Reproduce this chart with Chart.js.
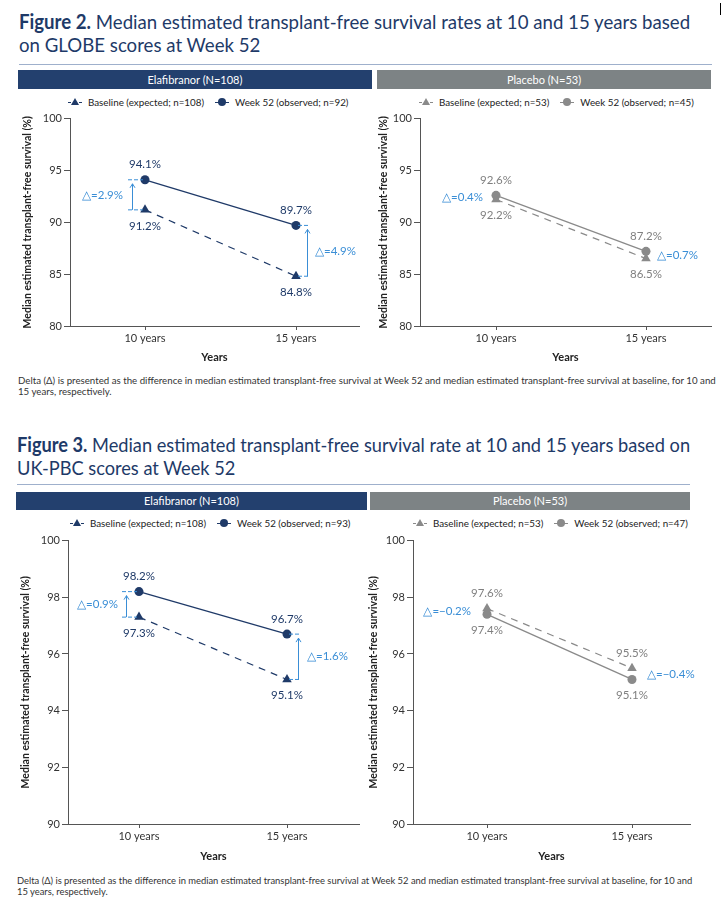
<!DOCTYPE html>
<html><head><meta charset="utf-8">
<script src="https://cdn.jsdelivr.net/npm/chart.js@4.4.1/dist/chart.umd.min.js"></script>
<style>
body{margin:0;width:728px;height:914px;position:relative;background:#fff;font-family:Lato,'Open Sans',sans-serif;overflow:hidden}
.abs{position:absolute}
.title{color:#1e3a68;font-size:20px;line-height:23px;white-space:nowrap}
.title span{display:inline-block;transform-origin:0 50%}
.title b{font-weight:700}
.rule{height:1px;background:#9fb0cc}
.hdr{color:#fff;font-size:11px;text-align:center}
.legend{font-size:9.8px;color:#222;white-space:nowrap;display:flex;align-items:center;height:12px}
.mk{display:inline-block;position:relative;width:14px;height:10px;margin-right:6px}
.mk .ln{position:absolute;left:0;right:0;top:5px;height:0;border-top:1px solid}
.mk .ln.d{border-top-style:dashed}
.mk .tri{position:absolute;left:3px;top:1px;width:8px;height:7px;clip-path:polygon(50% 0,100% 100%,0 100%)}
.mk .cir{position:absolute;left:3px;top:1px;width:8px;height:8px;border-radius:50%}
.item2{margin-left:11px}
.foot{color:#333;line-height:11px;white-space:nowrap}
canvas{position:absolute}
</style>
</head><body>

<div class="abs" style="left:720px;top:3px;width:1px;height:12px;background:#000"></div>

<div class="abs title" style="left:19px;top:10px"><span data-w="671"><b>Figure 2.</b> Median estimated transplant-free survival rates at 10 and 15 years based</span><br><span data-s="1">on GLOBE scores at Week 52</span></div>
<div class="abs rule" style="left:19px;top:64px;width:693px"></div>
<div class="abs hdr" style="left:18px;top:70px;width:354px;height:19px;line-height:19px;background:#23406e">Elafibranor (N=108)</div>
<div class="abs hdr" style="left:377px;top:70px;width:334px;height:19px;line-height:19px;background:#7d8385">Placebo (N=53)</div>
<div id="lg2a" class="abs legend" style="left:68px;top:96px"></div>
<div id="lg2b" class="abs legend" style="left:419px;top:96px"></div>
<div class="abs foot" style="left:18px;top:375px;font-size:9.7px">Delta (Δ) is presented as the difference in median estimated transplant-free survival at Week 52 and median estimated transplant-free survival at baseline, for 10 and<br>15 years, respectively.</div>

<div class="abs title" style="left:17px;top:433px"><span data-w="673"><b>Figure 3.</b> Median estimated transplant-free survival rate at 10 and 15 years based on</span><br><span data-s="1">UK-PBC scores at Week 52</span></div>
<div class="abs rule" style="left:17px;top:484px;width:673px"></div>
<div class="abs hdr" style="left:16px;top:492px;width:351px;height:18px;line-height:18px;background:#23406e">Elafibranor (N=108)</div>
<div class="abs hdr" style="left:370px;top:492px;width:320px;height:18px;line-height:18px;background:#7d8385">Placebo (N=53)</div>
<div id="lg3a" class="abs legend" style="left:70px;top:517px"></div>
<div id="lg3b" class="abs legend" style="left:413px;top:517px"></div>
<div class="abs foot" style="left:17px;top:875px;font-size:9.4px">Delta (Δ) is presented as the difference in median estimated transplant-free survival at Week 52 and median estimated transplant-free survival at baseline, for 10 and<br>15 years, respectively.</div>

<script>
// ---- data ----
const categories = ['10 years', '15 years'];
const categoryYears = [10, 15];
const yAxisTitle = 'Median estimated transplant-free survival (%)';
const xAxisTitle = 'Years';

const fig2YTicks = [80, 85, 90, 95, 100];
const fig3YTicks = [90, 92, 94, 96, 98, 100];

const fig2ElafBaseline = [91.2, 84.8];
const fig2ElafWeek52 = [94.1, 89.7];
const fig2ElafDelta = [2.9, 4.9];
const fig2ElafLegend = ['Baseline (expected; n=108)', 'Week 52 (observed; n=92)'];

const fig2PlacBaseline = [92.2, 86.5];
const fig2PlacWeek52 = [92.6, 87.2];
const fig2PlacDelta = [0.4, 0.7];
const fig2PlacLegend = ['Baseline (expected; n=53)', 'Week 52 (observed; n=45)'];

const fig3ElafBaseline = [97.3, 95.1];
const fig3ElafWeek52 = [98.2, 96.7];
const fig3ElafDelta = [0.9, 1.6];
const fig3ElafLegend = ['Baseline (expected; n=108)', 'Week 52 (observed; n=93)'];

const fig3PlacBaseline = [97.6, 95.5];
const fig3PlacWeek52 = [97.4, 95.1];
const fig3PlacDelta = [-0.2, -0.4];
const fig3PlacLegend = ['Baseline (expected; n=53)', 'Week 52 (observed; n=47)'];

// ---- styles ----
const NAVY = '#1f3a68';
const GREY = '#8a8a8a';
const GREY_TXT = '#7f7f7f';
const BLUE = '#3a8ed6';

// condense title lines to the reference width
document.querySelectorAll('.title').forEach(t => {
  const first = t.querySelector('span[data-w]');
  const k = +first.dataset.w / first.offsetWidth;
  t.querySelectorAll('span').forEach(s => { s.style.transform = 'scaleX(' + k + ')'; });
});

function buildLegend(id, labels, color) {
  const el = document.getElementById(id);
  el.innerHTML =
    '<span class="mk"><span class="ln d" style="border-color:' + color + '"></span><span class="tri" style="background:' + color + '"></span></span>' +
    '<span>' + labels[0] + '</span>' +
    '<span class="mk item2"><span class="ln" style="border-color:' + color + '"></span><span class="cir" style="background:' + color + '"></span></span>' +
    '<span>' + labels[1] + '</span>';
}

function fmtDelta(d) {
  return '\u25B3=' + (d < 0 ? '\u2212' : '') + Math.abs(d).toFixed(1) + '%';
}

const annotPlugin = {
  id: 'annot',
  afterDatasetsDraw(chart) {
    const o = chart.options.plugins.annot;
    const ctx = chart.ctx;
    const mb = chart.getDatasetMeta(0).data;
    const mw = chart.getDatasetMeta(1).data;
    const base = chart.data.datasets[0].data.map(p => p.y);
    const wk = chart.data.datasets[1].data.map(p => p.y);
    ctx.save();
    ctx.font = '11.5px Lato';
    ctx.textBaseline = 'middle';
    ctx.textAlign = 'center';
    ctx.fillStyle = o.labelColor;
    for (let i = 0; i < 2; i++) {
      const bHigh = base[i] > wk[i];
      const hi = bHigh ? mb[i] : mw[i], lo = bHigh ? mw[i] : mb[i];
      const hv = bHigh ? base[i] : wk[i], lv = bHigh ? wk[i] : base[i];
      ctx.fillText(hv.toFixed(1) + '%', hi.x, hi.y - 15);
      ctx.fillText(lv.toFixed(1) + '%', lo.x, lo.y + 16);
    }
    ctx.fillStyle = BLUE;
    ctx.strokeStyle = BLUE;
    ctx.lineWidth = 1;
    for (let i = 0; i < 2; i++) {
      const x = mw[i].x, yW = mw[i].y, yB = mb[i].y;
      const ym = (yW + yB) / 2;
      const left = i === 0;
      ctx.textAlign = left ? 'right' : 'left';
      ctx.fillText(fmtDelta(o.deltas[i]), left ? x - o.textOff[0] : x + o.textOff[1], ym);
      if (o.arrows) {
        const h1 = left ? x - 17 : x + 2, h2 = left ? x - 2 : x + 14;
        const ax = left ? x - 13 : x + 11;
        ctx.setLineDash([4, 2]);
        ctx.beginPath();
        ctx.moveTo(h1, yW); ctx.lineTo(h2, yW);
        ctx.moveTo(h1, yB); ctx.lineTo(h2, yB);
        ctx.stroke();
        ctx.setLineDash([]);
        ctx.beginPath();
        ctx.moveTo(ax + 0.5, yB); ctx.lineTo(ax + 0.5, yW + 4);
        ctx.moveTo(ax - 2, yW + 8); ctx.lineTo(ax + 0.5, yW + 4); ctx.lineTo(ax + 3, yW + 8);
        ctx.stroke();
      }
    }
    ctx.restore();
  }
};

function makeChart(c) {
  const cv = document.createElement('canvas');
  cv.width = c.w; cv.height = c.h;
  cv.style.left = c.left + 'px'; cv.style.top = c.top + 'px';
  cv.style.width = c.w + 'px'; cv.style.height = c.h + 'px';
  document.body.appendChild(cv);
  const pxPerYr = (c.x15 - c.x10) / 5;
  const xmin = categoryYears[0] - (c.x10 - c.l) / pxPerYr;
  const xmax = categoryYears[1] + (c.r - c.x15) / pxPerYr;
  const ticksFrom = arr => (scale) => { scale.ticks = arr.map(v => ({value: v})); };
  new Chart(cv, {
    type: 'line',
    data: {
      datasets: [
        {label: c.legend[0], data: categoryYears.map((x, i) => ({x, y: c.base[i]})),
          borderColor: c.color, backgroundColor: c.color, borderWidth: 1.2, borderDash: [7, 6],
          pointStyle: 'triangle', pointRadius: 5.5, pointBorderWidth: 0, pointBackgroundColor: c.color},
        {label: c.legend[1], data: categoryYears.map((x, i) => ({x, y: c.wk[i]})),
          borderColor: c.color, backgroundColor: c.color, borderWidth: 1.3,
          pointStyle: 'circle', pointRadius: 4.5, pointBorderWidth: 0, pointBackgroundColor: c.color}
      ]
    },
    options: {
      responsive: false, animation: false, devicePixelRatio: 1,
      layout: {padding: {top: c.t, right: c.w - c.r, left: 0, bottom: 0}},
      plugins: {legend: {display: false}, tooltip: {enabled: false},
        annot: {labelColor: c.labelColor, deltas: c.deltas, arrows: c.arrows, textOff: c.textOff}},
      scales: {
        x: {type: 'linear', min: xmin, max: xmax,
          afterBuildTicks: ticksFrom(categoryYears),
          afterFit: s => { s.height = c.h - c.b; },
          ticks: {callback: v => categories[categoryYears.indexOf(v)], font: {family: 'Lato', size: 11}, color: '#333', padding: 2, maxRotation: 0, autoSkip: false},
          grid: {drawOnChartArea: false, drawTicks: true, tickLength: 4, color: '#555'},
          border: {color: '#555', width: 1},
          title: {display: true, text: xAxisTitle, font: {family: 'Lato', size: 11, weight: 'bold'}, color: '#222', padding: {top: 0, bottom: c.xtPad}}
        },
        y: {min: c.ymin, max: c.ymax,
          afterBuildTicks: ticksFrom(c.yticks),
          afterFit: s => { s.width = c.l; },
          ticks: {font: {family: 'Lato', size: 11}, color: '#333', padding: 2},
          grid: {drawOnChartArea: false, drawTicks: true, tickLength: 6, color: '#555'},
          border: {color: '#555', width: 1},
          title: {display: true, text: yAxisTitle, font: {family: 'Lato', size: 10.5, weight: 'bold'}, color: '#222', padding: {top: c.ytPad, bottom: 0}}
        }
      }
    },
    plugins: [annotPlugin]
  });
}

buildLegend('lg2a', fig2ElafLegend, NAVY);
buildLegend('lg2b', fig2PlacLegend, GREY);
buildLegend('lg3a', fig3ElafLegend, NAVY);
buildLegend('lg3b', fig3PlacLegend, GREY);

makeChart({left: 0, top: 110, w: 372, h: 258, l: 70, r: 359, t: 8, b: 216, x10: 145, x15: 296,
  ymin: 80, ymax: 100, yticks: fig2YTicks, base: fig2ElafBaseline, wk: fig2ElafWeek52, deltas: fig2ElafDelta,
  legend: fig2ElafLegend, color: NAVY, labelColor: NAVY, arrows: true, textOff: [22, 19], xtPad: 4, ytPad: 21});
makeChart({left: 350, top: 110, w: 372, h: 258, l: 70, r: 361, t: 8, b: 216, x10: 146, x15: 296,
  ymin: 80, ymax: 100, yticks: fig2YTicks, base: fig2PlacBaseline, wk: fig2PlacWeek52, deltas: fig2PlacDelta,
  legend: fig2PlacLegend, color: GREY, labelColor: GREY_TXT, arrows: false, textOff: [13, 11], xtPad: 4, ytPad: 27});
makeChart({left: 0, top: 532, w: 372, h: 336, l: 68, r: 359, t: 8, b: 292, x10: 139, x15: 287,
  ymin: 90, ymax: 100, yticks: fig3YTicks, base: fig3ElafBaseline, wk: fig3ElafWeek52, deltas: fig3ElafDelta,
  legend: fig3ElafLegend, color: NAVY, labelColor: NAVY, arrows: true, textOff: [21, 20], xtPad: 5, ytPad: 19});
makeChart({left: 345, top: 532, w: 360, h: 336, l: 68, r: 345, t: 8, b: 292, x10: 142, x15: 287,
  ymin: 90, ymax: 100, yticks: fig3YTicks, base: fig3PlacBaseline, wk: fig3PlacWeek52, deltas: fig3PlacDelta,
  legend: fig3PlacLegend, color: GREY, labelColor: GREY_TXT, arrows: false, textOff: [16, 15], xtPad: 5, ytPad: 22});
</script>
</body></html>
